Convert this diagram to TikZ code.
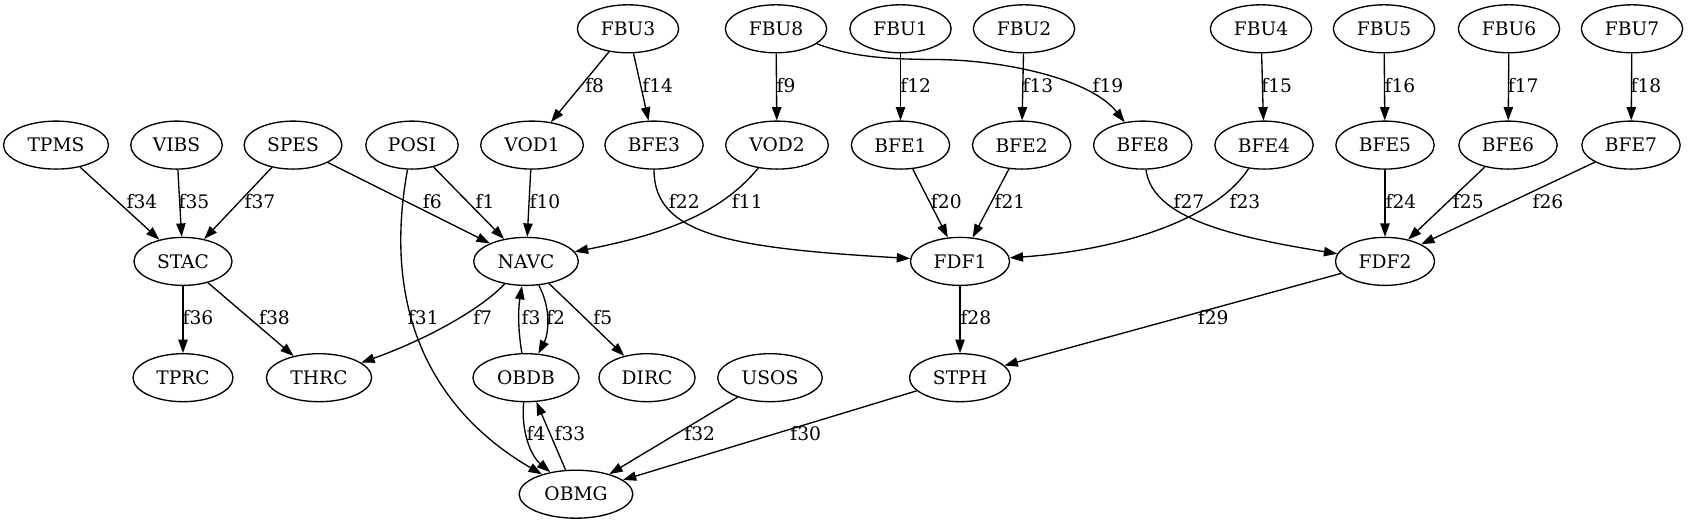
\documentclass[tikz,border=0pt]{standalone}
\usepackage{fontspec}
\setmainfont{DejaVu Serif}
\usetikzlibrary{shapes.geometric,arrows.meta}
\begin{document}
\begin{tikzpicture}[x=0.75pt,y=-0.75pt,
  nd/.style={ellipse,draw,line width=1pt,inner xsep=6.5pt,inner ysep=2pt,minimum height=36pt,font=\fontsize{14}{16}\selectfont},
  lb/.style={inner sep=0pt,font=\fontsize{14}{16}\selectfont},
  ed/.style={line width=1pt,-{Triangle[length=10pt,width=7pt]}}]
\useasboundingbox[fill=white] (0,0) rectangle (1688,523);
% row 0
\node[nd] (FBU3) at (628,28.8) {FBU3};
\node[nd] (FBU8) at (776,28.8) {FBU8};
\node[nd] (FBU1) at (900.5,28.8) {FBU1};
\node[nd] (FBU2) at (1024,28.8) {FBU2};
\node[nd] (FBU4) at (1261,28.8) {FBU4};
\node[nd] (FBU5) at (1384,28.8) {FBU5};
\node[nd] (FBU6) at (1509,28.8) {FBU6};
\node[nd] (FBU7) at (1632,28.8) {FBU7};
% row 1
\node[nd] (TPMS) at (56,145.1) {TPMS};
\node[nd] (VIBS) at (176.5,145.1) {VIBS};
\node[nd] (SPES) at (293,145.1) {SPES};
\node[nd] (POSI) at (412,145.1) {POSI};
\node[nd] (VOD1) at (532,145.1) {VOD1};
\node[nd] (BFE3) at (654,145.1) {BFE3};
\node[nd] (VOD2) at (777,145.1) {VOD2};
\node[nd] (BFE1) at (900.5,145.1) {BFE1};
\node[nd] (BFE2) at (1021.6,145.1) {BFE2};
\node[nd] (BFE8) at (1142.7,145.1) {BFE8};
\node[nd] (BFE4) at (1264,145.1) {BFE4};
\node[nd] (BFE5) at (1385,145.1) {BFE5};
\node[nd] (BFE6) at (1508,145.1) {BFE6};
\node[nd] (BFE7) at (1631,145.1) {BFE7};
% row 2
\node[nd] (STAC) at (183,261.4) {STAC};
\node[nd] (NAVC) at (526,261.4) {NAVC};
\node[nd] (FDF1) at (960,261.4) {FDF1};
\node[nd] (FDF2) at (1385,261.4) {FDF2};
% row 3
\node[nd] (TPRC) at (183,377.7) {TPRC};
\node[nd] (THRC) at (319,377.7) {THRC};
\node[nd] (OBDB) at (526,377.7) {OBDB};
\node[nd] (DIRC) at (647,377.7) {DIRC};
\node[nd] (USOS) at (770,377.7) {USOS};
\node[nd] (STPH) at (960,377.7) {STPH};
% row 4
\node[nd] (OBMG) at (576,494.2) {OBMG};

% edges row0 -> row1
\draw[ed] (FBU3) -- (VOD1);
\draw[ed] (FBU3) -- (BFE3);
\draw[ed] (FBU8) -- (VOD2);
\draw[ed] (FBU8) .. controls (850,56) and (880,59) .. (930,59.5) .. controls (1000,59) and (1090,78) .. (BFE8);
\draw[ed] (FBU1) -- (BFE1);
\draw[ed] (FBU2) -- (BFE2);
\draw[ed] (FBU4) -- (BFE4);
\draw[ed] (FBU5) -- (BFE5);
\draw[ed] (FBU6) -- (BFE6);
\draw[ed] (FBU7) -- (BFE7);
% row1 -> row2
\draw[ed] (TPMS) -- (STAC);
\draw[ed] (VIBS) -- (STAC);
\draw[ed] (SPES) -- (STAC);
\draw[ed] (SPES) -- (NAVC);
\draw[ed] (POSI) -- (NAVC);
\draw[ed] (VOD1) -- (NAVC);
\draw[ed] (VOD2) .. controls (720,215) and (660,235) .. (NAVC);
\draw[ed] (BFE3) .. controls (654,235) and (730,248) .. (FDF1);
\draw[ed] (BFE1) -- (FDF1);
\draw[ed] (BFE2) -- (FDF1);
\draw[ed] (BFE4) .. controls (1215,220) and (1120,250) .. (FDF1);
\draw[ed] (BFE8) .. controls (1152,215) and (1220,235) .. (FDF2);
\draw[ed] (BFE5) -- (FDF2);
\draw[ed] (BFE6) -- (FDF2);
\draw[ed] (BFE7) -- (FDF2);
% row2 -> row3
\draw[ed] (STAC) -- (TPRC);
\draw[ed] (STAC) -- (THRC);
\draw[ed] (NAVC) .. controls (480,310) and (425,340) .. (THRC);
\draw[ed] (NAVC) .. controls (552,310) and (548,335) .. (OBDB);
\draw[ed] (OBDB) .. controls (518,330) and (518,310) .. (NAVC);
\draw[ed] (NAVC) -- (DIRC);
\draw[ed] (FDF1) -- (STPH);
\draw[ed] (FDF2) -- (STPH);
% to row4
\draw[ed] (POSI) .. controls (380,320) and (440,415) .. (OBMG);
\draw[ed] (OBDB) .. controls (521,430) and (530,455) .. (OBMG);
\draw[ed] (OBMG) -- (OBDB);
\draw[ed] (USOS) -- (OBMG);
\draw[ed] (STPH) -- (OBMG);

% labels
\node[lb] (l8) at (594.7,85.7) {f8};
\node[lb] (l14) at (657.7,85.7) {f14};
\node[lb] (l9) at (786,85.7) {f9};
\node[lb] (l12) at (915.7,85.7) {f12};
\node[lb] (l13) at (1038,85.7) {f13};
\node[lb] (l19) at (1108,85.7) {f19};
\node[lb] (l15) at (1276.7,85.7) {f15};
\node[lb] (l16) at (1400,85.7) {f16};
\node[lb] (l17) at (1523.2,85.7) {f17};
\node[lb] (l18) at (1646,85.7) {f18};

\node[lb] (l34) at (142,201.7) {f34};
\node[lb] (l35) at (194,201.7) {f35};
\node[lb] (l37) at (260,201.7) {f37};
\node[lb] (l6) at (432.3,201.7) {f6};
\node[lb] (l1) at (485,201.7) {f1};
\node[lb] (l10) at (545,201.7) {f10};
\node[lb] (l22) at (684.3,201.7) {f22};
\node[lb] (l11) at (747.3,201.7) {f11};
\node[lb] (l20) at (946.3,201.7) {f20};
\node[lb] (l21) at (1010,201.7) {f21};
\node[lb] (l27) at (1189,201.7) {f27};
\node[lb] (l23) at (1245,201.7) {f23};
\node[lb] (l24) at (1401,201.7) {f24};
\node[lb] (l25) at (1468.3,201.7) {f25};
\node[lb] (l26) at (1548,201.7) {f26};

\node[lb] (l36) at (198,317.5) {f36};
\node[lb] (l38) at (274.5,317.5) {f38};
\node[lb] (l31) at (423.3,317.5) {f31};
\node[lb] (l7) at (482.7,317.5) {f7};
\node[lb] (l3) at (531,317.5) {f3};
\node[lb] (l2) at (555.7,317.5) {f2};
\node[lb] (l5) at (602.8,317.5) {f5};
\node[lb] (l28) at (975.9,317.5) {f28};
\node[lb] (l29) at (1213.2,317.5) {f29};

\node[lb] (l4) at (536,433.3) {f4};
\node[lb] (l33) at (570,433.3) {f33};
\node[lb] (l32) at (699.7,433.3) {f32};
\node[lb] (l30) at (805.7,433.3) {f30};
\end{tikzpicture}
\end{document}
